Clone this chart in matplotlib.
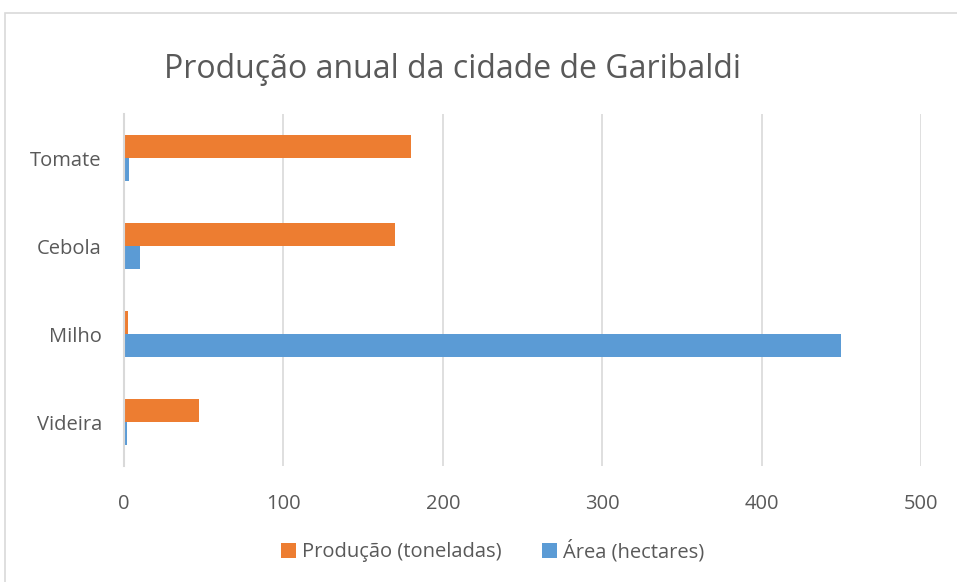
import matplotlib.pyplot as plt
from matplotlib.patches import Rectangle

# dados
culturas = ['Tomate', 'Cebola', 'Milho', 'Videira']
producao = [180, 170, 2.5, 47]
area = [3, 10, 450, 2]
ticks_x = [0, 100, 200, 300, 400, 500]

laranja = '#ED7D31'
azul = '#5B9BD5'
cinza_txt = '#595959'

plt.rcParams['font.family'] = ['Open Sans', 'DejaVu Sans']

fig = plt.figure(figsize=(9.57, 5.82), dpi=100)
ax = fig.add_axes([124 / 957, 116 / 582, 797 / 957, 352 / 582])

# moldura do grafico
fig.patches.append(Rectangle((5 / 957, -0.1), 1.2, (582 - 13) / 582 + 0.1,
                             transform=fig.transFigure, fill=False,
                             edgecolor='#D9D9D9', linewidth=1.2))

h = 0.267
pos = list(range(len(culturas)))
ax.barh([p - h / 2 for p in pos], producao, height=h, color=laranja,
        label='Produção (toneladas)', zorder=3)
ax.barh([p + h / 2 for p in pos], area, height=h, color=azul,
        label='Área (hectares)', zorder=3)

ax.set_ylim(3.5, -0.5)
ax.set_xlim(0, 500)
ax.set_yticks(pos)
ax.set_yticklabels(culturas)
ax.set_xticks(ticks_x)

ax.grid(axis='x', color='#D9D9D9', linewidth=1.2, zorder=0)
for s in ['top', 'right', 'bottom']:
    ax.spines[s].set_visible(False)
ax.spines['left'].set_color('#D9D9D9')
ax.spines['left'].set_linewidth(1.5)
ax.spines['left'].set_zorder(4)
ax.tick_params(axis='both', length=0, labelsize=14.5, colors=cinza_txt)
ax.tick_params(axis='x', pad=20)
ax.tick_params(axis='y', pad=16)

fig.text(453 / 957, 1 - 70 / 582, 'Produção anual da cidade de Garibaldi',
         ha='center', va='center', fontsize=23, color=cinza_txt)

fig.legend(loc='center', bbox_to_anchor=(493 / 957, 1 - 551 / 582), ncol=2,
           frameon=False, fontsize=14.5, labelcolor=cinza_txt,
           handlelength=0.75, handleheight=0.75, handletextpad=0.3,
           columnspacing=2.0)

fig.savefig('out.png', dpi=100)
